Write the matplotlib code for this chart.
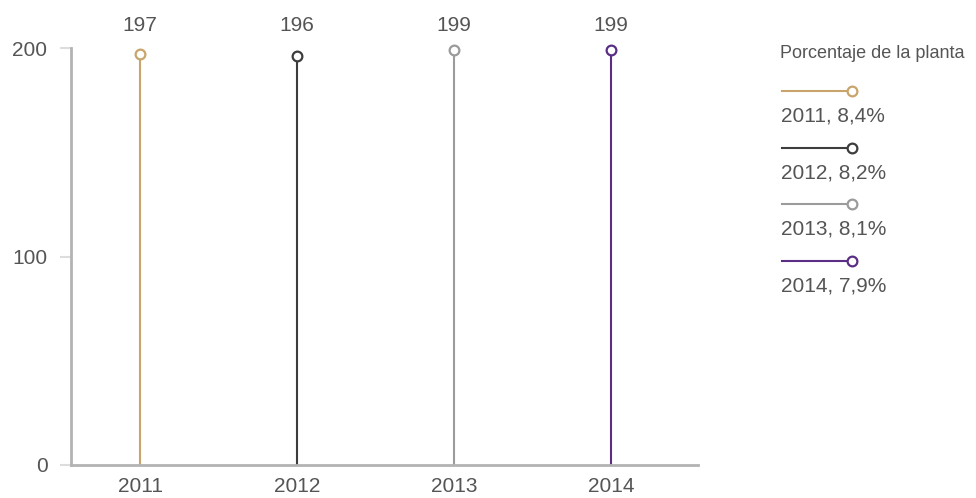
import matplotlib.pyplot as plt
from matplotlib.lines import Line2D

plt.rcParams['font.family'] = ['Liberation Sans', 'DejaVu Sans']

years = [2011, 2012, 2013, 2014]
values = [197, 196, 199, 199]
pct_labels = ['8,4%', '8,2%', '8,1%', '7,9%']
colors = ['#c9a46b', '#3d3d3d', '#9b9b9b', '#5b2e86']
text_color = '#555555'
fs = 15

W, H = 976, 498
fig = plt.figure(figsize=(W / 100, H / 100), dpi=100)
ax = fig.add_axes([71 / W, 1 - 465 / H, (698 - 71) / W, (465 - 48) / H])

for x, v, c in zip(years, values, colors):
    ax.plot([x, x], [0, v], color=c, lw=1.5, zorder=2)
    ax.plot(x, v, 'o', ms=7, mfc='white', mec=c, mew=1.6, zorder=3, clip_on=False)
    # value label above the plotting area
    ax.annotate(str(v), xy=(x, 200), xytext=(0, 16), textcoords='offset points',
                ha='center', va='center', fontsize=fs, color=text_color,
                annotation_clip=False)

ax.set_xlim(2010.56, 2014.555)
ax.set_ylim(0, 200)
ax.set_xticks(years)
ax.set_xticklabels([str(y) for y in years])
ax.set_yticks([0, 100, 200])
ax.tick_params(axis='x', length=0, pad=9, labelsize=fs, labelcolor=text_color)
ax.tick_params(axis='y', length=8, width=1.5, color='#dddddd', pad=9,
               labelsize=fs, labelcolor=text_color)
for s in ['top', 'right']:
    ax.spines[s].set_visible(False)
for s in ['left', 'bottom']:
    ax.spines[s].set_color('#b3b3b3')
    ax.spines[s].set_linewidth(2)

# legend drawn by hand on the right
def fx(px):
    return px / W

def fy(py):
    return 1 - py / H

fig.text(fx(780), fy(53), 'Porcentaje de la planta', fontsize=13,
         color=text_color, ha='left', va='center')
for i, (y, p, c) in enumerate(zip(years, pct_labels, colors)):
    ly = 91 + i * 56.7
    fig.add_artist(Line2D([fx(782), fx(851)], [fy(ly), fy(ly)], color=c, lw=1.5,
                          transform=fig.transFigure))
    fig.add_artist(Line2D([fx(852)], [fy(ly)], marker='o', ms=7, mfc='white', mec=c,
                          mew=1.6, transform=fig.transFigure))
    fig.text(fx(781), fy(ly + 25), f'{y}, {p}', fontsize=fs, color=text_color,
             ha='left', va='center')

fig.savefig('out.png', dpi=100)
